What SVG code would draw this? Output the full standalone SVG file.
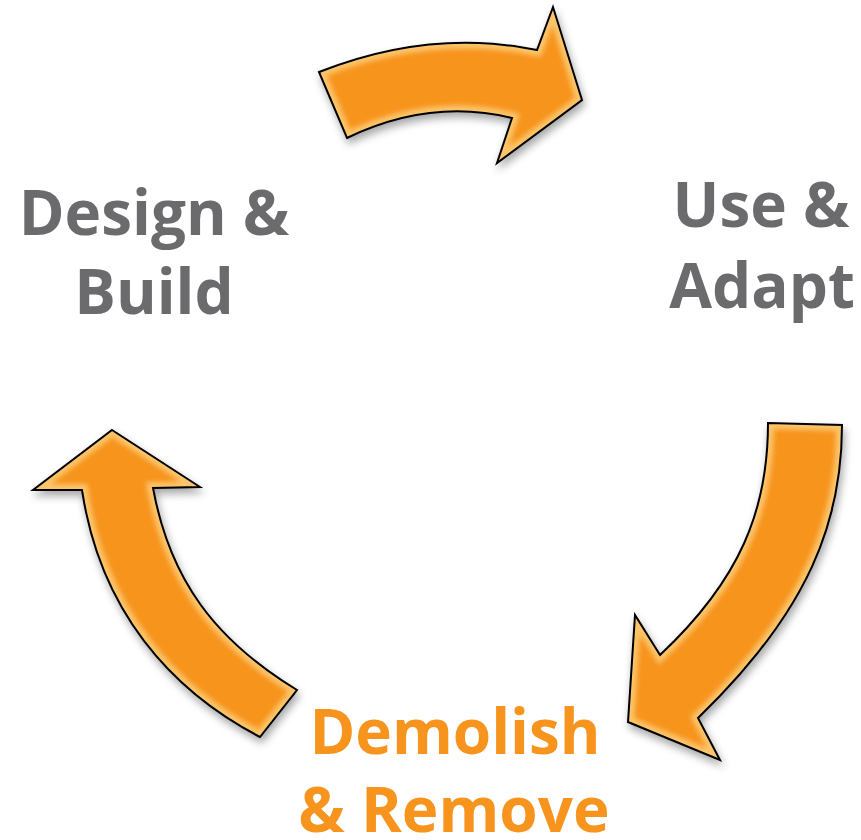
<svg xmlns="http://www.w3.org/2000/svg" width="861" height="840" viewBox="0 0 861 840">
<defs>
<style>
.lbl{font-family:"Open Sans","Liberation Sans",sans-serif;font-weight:bold;font-size:62px;text-anchor:middle}
.gray{fill:#6b6b6d}
.org{fill:#f7941d}
.arrow{fill:#f7941d}
.edge{fill:none;stroke:#ffe6a0;stroke-width:12;opacity:0.6}
.line{fill:none;stroke:#000;stroke-width:2;stroke-linejoin:miter}
</style>
<filter id="shadow" x="-20%" y="-20%" width="140%" height="140%">
<feGaussianBlur in="SourceAlpha" stdDeviation="4"/>
<feOffset dx="2" dy="5" result="b"/>
<feComponentTransfer><feFuncA type="linear" slope="0.35"/></feComponentTransfer>
<feMerge><feMergeNode/><feMergeNode in="SourceGraphic"/></feMerge>
</filter>
<filter id="soft"><feGaussianBlur stdDeviation="2.5"/></filter>
<path id="a1" d="M319,72 Q430,28 537,50 L553,7 L582,100 L497,163 L512,118 Q430,98 347,138 Z"/>
<path id="a2" d="M768,423 L842,425 C842,520 810,610 698,718 L720,760 L628,722 L635,615 L660,655 C740,580 768,510 768,423 Z"/>
<path id="a3" d="M112,430 L200,487 L153,488 C170,580 215,640 297,690 L260,737 C170,690 100,610 82,490 L33,490 Z"/>
<clipPath id="c1"><use href="#a1"/></clipPath>
<clipPath id="c2"><use href="#a2"/></clipPath>
<clipPath id="c3"><use href="#a3"/></clipPath>
</defs>
<rect width="861" height="840" fill="#fff"/>
<g id="connectors">
<g id="arrow-top" filter="url(#shadow)">
<use href="#a1" class="arrow"/>
<g clip-path="url(#c1)"><use href="#a1" class="edge" filter="url(#soft)"/></g>
<use href="#a1" class="line"/>
</g>
<g id="arrow-right" filter="url(#shadow)">
<use href="#a2" class="arrow"/>
<g clip-path="url(#c2)"><use href="#a2" class="edge" filter="url(#soft)"/></g>
<use href="#a2" class="line"/>
</g>
<g id="arrow-left" filter="url(#shadow)">
<use href="#a3" class="arrow"/>
<g clip-path="url(#c3)"><use href="#a3" class="edge" filter="url(#soft)"/></g>
<use href="#a3" class="line"/>
</g>
</g>
<g id="design-build">
<text class="lbl gray" x="154" y="235">Design &amp;</text>
<text class="lbl gray" x="154" y="314">Build</text>
</g>
<g id="use-adapt">
<text class="lbl gray" x="761" y="227">Use &amp;</text>
<text class="lbl gray" x="762" y="308">Adapt</text>
</g>
<g id="demolish-remove">
<text class="lbl org" x="455" y="754">Demolish</text>
<text class="lbl org" x="454" y="832">&amp; Remove</text>
</g>
</svg>
